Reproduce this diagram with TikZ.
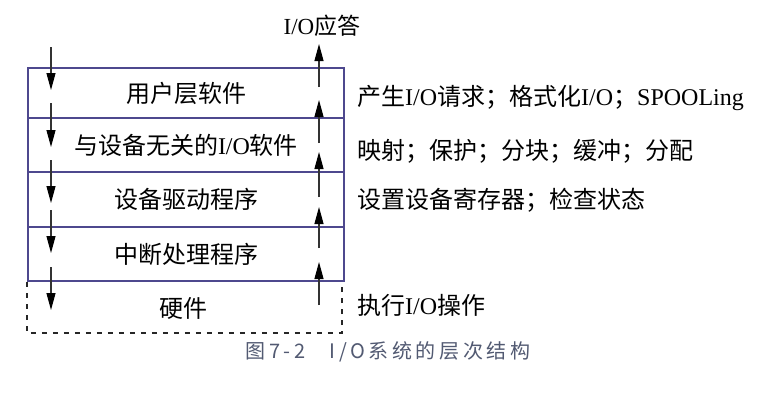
\documentclass[tikz,border=0pt]{standalone}
\usepackage{fontspec}
\setmainfont{Liberation Serif}
\newfontfamily\cjk{Noto Sans CJK SC}
\newfontfamily\capfont[LetterSpace=18]{Noto Sans CJK SC}
\usetikzlibrary{arrows.meta}
\definecolor{boxc}{RGB}{78,72,142}
\definecolor{capc}{RGB}{82,90,114}
\newcommand{\io}{{\rmfamily I/O}}
\tikzset{
  layer/.style={draw=boxc, line width=2.2pt, minimum width=316pt, inner sep=0pt,
    font={\cjk\fontsize{24}{28}\selectfont}},
  label/.style={inner sep=0pt, font={\cjk\fontsize{24}{28}\selectfont}},
  note/.style={anchor=west, inner sep=0pt, font={\cjk\fontsize{24}{28}\selectfont}},
  flow/.style={draw=black!80, line width=1.1pt, -{Triangle[length=17pt,width=9pt,fill=black,color=black]}},
  hwbox/.style={draw=black!85, line width=1.5pt, dash pattern=on 5pt off 6pt},
}
\begin{document}
\begin{tikzpicture}[x=1pt, y=-1pt]
  \useasboundingbox[fill=white] (0,0) rectangle (784,392);

  % the four software layers
  \node[layer, minimum height=50pt] (r1) at (186,93)  {用户层软件};
  \node[layer, minimum height=54pt] (r2) at (186,145) {与设备无关的\io 软件};
  \node[layer, minimum height=55pt] (r3) at (186,199.5) {设备驱动程序};
  \node[layer, minimum height=54pt] (r4) at (186,254) {中断处理程序};

  % hardware layer, open at the top
  \draw[hwbox] (r4.south west) -- ++(0,51) -- ++(315,0) -- ++(0,-51);
  \node[label] (hw) at (183,308) {硬件};

  % request path (down) and reply path (up)
  \foreach \a/\b [count=\i] in {47/90, 103/147, 160/203, 210/253, 267/310} {
    \coordinate (d\i a) at (51,\a);
    \coordinate (d\i b) at (51,\b);
    \draw[flow] (d\i a) -- (d\i b);
  }
  \foreach \a/\b [count=\i] in {87/44, 143/100, 197/152, 248/207, 305/262} {
    \coordinate (u\i a) at (319,\a);
    \coordinate (u\i b) at (319,\b);
    \draw[flow] (u\i a) -- (u\i b);
  }
  \node[label, font={\cjk\fontsize{23}{28}\selectfont}] (reply) at (322,26) {\io 应答};

  % functions of each layer
  \node[note] (n1) at (357,98)  {产生\io 请求；格式化\io；{\rmfamily SPOOLing}};
  \node[note] (n2) at (357,151) {映射；保护；分块；缓冲；分配};
  \node[note] (n3) at (357,200) {设置设备寄存器；检查状态};
  \node[note] (n5) at (357,305) {执行\io 操作};

  % caption
  \node[inner sep=0pt, text=capc, font={\capfont\fontsize{20}{22}\selectfont}] (cap) at (388,352)
    {图7-2\hspace{1.2em}I/O系统的层次结构};
\end{tikzpicture}
\end{document}
